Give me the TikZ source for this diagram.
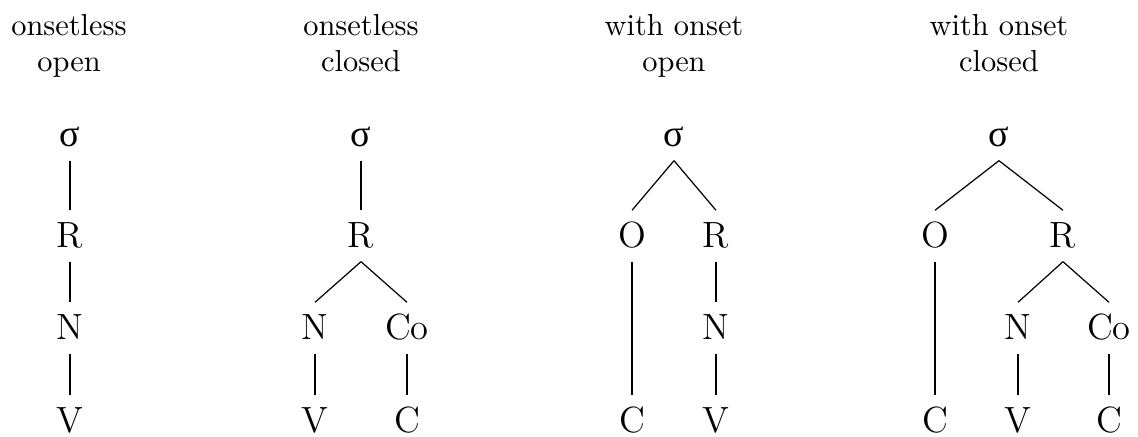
\documentclass[tikz,border=0pt]{standalone}
\usepackage{fontspec}
\newfontfamily\sigmafont{Liberation Serif}
\begin{document}
\begin{tikzpicture}[x=0.329pt,y=-0.329pt,
  lab/.style={anchor=base,font=\large,text height=7.9pt,text depth=0pt,inner sep=4.3pt},
  sig/.style={anchor=base,font=\sigmafont\fontsize{12.5}{14}\selectfont,text height=5.5pt,text depth=0pt,inner sep=4.3pt},
  ttl/.style={anchor=base,align=center,font=\normalsize,inner sep=0pt},
  br/.style={line width=0.4pt}]
\useasboundingbox (0,0) rectangle (1138,437);
% titles
\node[ttl] (t1) at (69,72) {onsetless\\open};
\node[ttl] (t2) at (361,72) {onsetless\\closed};
\node[ttl] (t3) at (674,72) {with onset\\open};
\node[ttl] (t4) at (999,72) {with onset\\closed};
% tree 1
\node[sig] (s1) at (70,147) {σ};
\node[lab] (r1) at (70,248) {R};
\node[lab] (n1) at (70,340) {N};
\node[lab] (v1) at (70,433) {V};
\draw[br] (s1.south) -- (r1.north);
\draw[br] (r1.south) -- (n1.north);
\draw[br] (n1.south) -- (v1.north);
% tree 2
\node[sig] (s2) at (361,147) {σ};
\node[lab] (r2) at (361,248) {R};
\node[lab] (n2) at (315,340) {N};
\node[lab] (co2) at (407,340) {Co};
\node[lab] (v2) at (315,433) {V};
\node[lab] (c2) at (407,433) {C};
\draw[br] (s2.south) -- (r2.north);
\draw[br] (r2.south) -- (n2.north);
\draw[br] (r2.south) -- (co2.north);
\draw[br] (n2.south) -- (v2.north);
\draw[br] (co2.south) -- (c2.north);
% tree 3
\node[sig] (s3) at (674,147) {σ};
\node[lab] (o3) at (632,248) {O};
\node[lab] (r3) at (716,248) {R};
\node[lab] (n3) at (716,340) {N};
\node[lab] (c3) at (632,433) {C};
\node[lab] (v3) at (716,433) {V};
\draw[br] (s3.south) -- (o3.north);
\draw[br] (s3.south) -- (r3.north);
\draw[br] (o3.south) -- (c3.north);
\draw[br] (r3.south) -- (n3.north);
\draw[br] (n3.south) -- (v3.north);
% tree 4
\node[sig] (s4) at (999,147) {σ};
\node[lab] (o4) at (935,248) {O};
\node[lab] (r4) at (1063,248) {R};
\node[lab] (n4) at (1018,340) {N};
\node[lab] (co4) at (1109,340) {Co};
\node[lab] (c4) at (935,433) {C};
\node[lab] (v4) at (1018,433) {V};
\node[lab] (cc4) at (1109,433) {C};
\draw[br] (s4.south) -- (o4.north);
\draw[br] (s4.south) -- (r4.north);
\draw[br] (o4.south) -- (c4.north);
\draw[br] (r4.south) -- (n4.north);
\draw[br] (r4.south) -- (co4.north);
\draw[br] (n4.south) -- (v4.north);
\draw[br] (co4.south) -- (cc4.north);
\end{tikzpicture}
\end{document}
